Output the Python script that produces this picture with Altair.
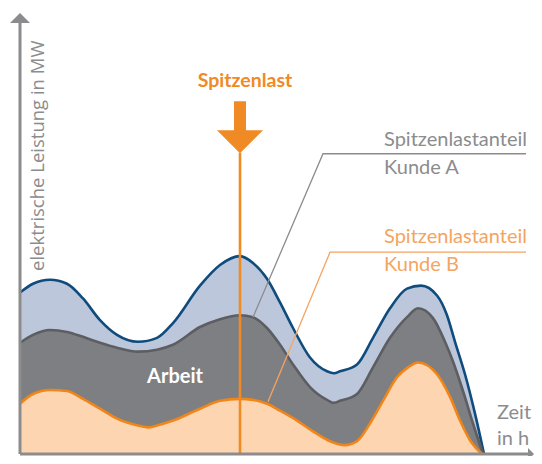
import altair as alt
import pandas as pd

# ---- values (x = time, y = power, chart units) ----
total_t = [0, 13, 30, 47, 63, 80, 97, 118, 137, 153, 180, 200, 220, 233, 247, 260, 273, 290, 307, 314, 320, 337, 353, 370, 387, 401, 417, 427, 435, 445, 455, 464]
total_p = [164, 173, 177, 173, 158, 136, 121, 114, 118, 133, 171, 192, 201, 194, 178, 154, 128, 98, 84, 82, 84, 91, 118, 148, 168, 171, 161, 141, 114, 81, 41, 0]

arbeit_t = [0, 13, 30, 47, 63, 80, 97, 118, 137, 153, 180, 200, 220, 233, 247, 260, 273, 290, 307, 314, 320, 337, 353, 370, 387, 398, 413, 425, 433, 443, 453, 463]
arbeit_p = [113, 121, 126, 124, 119, 113, 108, 104, 106, 111, 129, 137, 141, 139, 128, 111, 91, 68, 55, 52, 54, 61, 88, 118, 139, 148, 138, 114, 94, 64, 31, 0]

kundeb_t = [0, 13, 30, 47, 63, 80, 97, 118, 128, 137, 153, 180, 200, 220, 233, 247, 260, 277, 293, 310, 325, 337, 350, 363, 377, 388, 398, 417, 430, 440, 450, 462]
kundeb_p = [51, 61, 65, 64, 56, 46, 36, 29, 27, 29, 34, 46, 54, 56, 55, 51, 44, 34, 23, 13, 9, 13, 31, 54, 78, 88, 93, 81, 58, 34, 14, 0]

peak_t = 220          # time of the peak load
peak_top = 306

y_title = "elektrische Leistung in MW"
x_title = ["Zeit", "in h"]
peak_label = "Spitzenlast"
label_a = ["Spitzenlastanteil", "Kunde A"]
label_b = ["Spitzenlastanteil", "Kunde B"]
area_label = "Arbeit"

# ---- colours / fonts ----
BLUE_FILL, BLUE_LINE = "#bdc7dc", "#0f4c7d"
GRAY_FILL, GRAY_LINE = "#7e7f83", "#5d5e62"
OR_FILL, OR_LINE = "#fdd6b1", "#f08519"
PEAK = "#f08a24"
LBL_GRAY, LBL_OR = "#8b8c8e", "#f5a460"
AXIS = "#8c8c8e"
LBL_FONT = "Lato"

XMAX, YMAX = 514, 448
W, H = 514, 441
xs = alt.Scale(domain=[0, XMAX], nice=False, zero=False)
ys = alt.Scale(domain=[0, YMAX], nice=False, zero=False)
X = lambda f="t": alt.X(f"{f}:Q", scale=xs, axis=None)
Y = lambda f="p": alt.Y(f"{f}:Q", scale=ys, axis=None)


def df(t, p):
    return pd.DataFrame({"t": t, "p": p})


def area(d, fill):
    return alt.Chart(d).mark_area(interpolate="monotone", color=fill).encode(x=X(), y=Y())


def line(d, stroke, w=2.6):
    return alt.Chart(d).mark_line(interpolate="monotone", color=stroke, strokeWidth=w).encode(x=X(), y=Y())


d_total, d_arbeit, d_b = df(total_t, total_p), df(arbeit_t, arbeit_p), df(kundeb_t, kundeb_p)

layers = [
    area(d_total, BLUE_FILL), line(d_total, BLUE_LINE),
    area(d_arbeit, GRAY_FILL), line(d_arbeit, GRAY_LINE),
    area(d_b, OR_FILL), line(d_b, OR_LINE),
]

# peak line
layers.append(
    alt.Chart(pd.DataFrame({"t": [peak_t], "p0": [0], "p1": [peak_top]}))
    .mark_rule(color=PEAK, strokeWidth=2.6)
    .encode(x=X(), y=Y("p0"), y2="p1:Q")
)

# pointer lines
ptr_a = pd.DataFrame({"t": [233, 303, 506], "p": [139, 305, 305]})
ptr_b = pd.DataFrame({"t": [248, 310, 506], "p": [53, 205, 205]})
layers.append(alt.Chart(ptr_a).mark_line(color=LBL_GRAY, strokeWidth=1.3).encode(x=X(), y=Y()))
layers.append(alt.Chart(ptr_b).mark_line(color=LBL_OR, strokeWidth=1.3).encode(x=X(), y=Y()))

# big arrow
arrow_path = "M-0.23,-1 L0.23,-1 L0.23,0.115 L0.885,0.115 L0,1 L-0.885,0.115 L-0.23,0.115 Z"
layers.append(
    alt.Chart(pd.DataFrame({"t": [peak_t], "p": [332]}))
    .mark_point(shape=arrow_path, size=2704, filled=True, color=PEAK, opacity=1, strokeWidth=0)
    .encode(x=X(), y=Y())
)


def text(d, **kw):
    return alt.Chart(d).mark_text(**kw).encode(x=X(), y=Y(), text="s:N")


layers.append(text(pd.DataFrame({"t": [225], "p": [373], "s": [peak_label]}),
                   font=LBL_FONT, fontSize=19.5, fontWeight="bold", color=PEAK, align="center", baseline="alphabetic"))
layers.append(text(pd.DataFrame({"t": [364, 364], "p": [313, 284], "s": label_a}),
                   font=LBL_FONT, fontSize=20, color=LBL_GRAY, align="left", baseline="alphabetic"))
layers.append(text(pd.DataFrame({"t": [364, 364], "p": [214, 186], "s": label_b}),
                   font=LBL_FONT, fontSize=20, color=LBL_OR, align="left", baseline="alphabetic"))
layers.append(text(pd.DataFrame({"t": [155], "p": [72], "s": [area_label]}),
                   font=LBL_FONT, fontSize=20, fontWeight="bold", color="white", align="center", baseline="alphabetic"))
layers.append(text(pd.DataFrame({"t": [477, 477], "p": [36, 9], "s": x_title}),
                   font=LBL_FONT, fontSize=20, color=LBL_GRAY, align="left", baseline="alphabetic"))
layers.append(text(pd.DataFrame({"t": [24], "p": [303], "s": [y_title]}),
                   font="Open Sans", fontSize=18.5, color=LBL_GRAY, angle=270, align="center", baseline="alphabetic"))

# axes with arrow heads
layers.append(alt.Chart(pd.DataFrame({"t": [0], "p0": [0], "p1": [440]}))
              .mark_rule(color=AXIS, strokeWidth=3).encode(x=X(), y=Y("p0"), y2="p1:Q"))
layers.append(alt.Chart(pd.DataFrame({"t0": [0], "t1": [508], "p": [0]}))
              .mark_rule(color=AXIS, strokeWidth=3).encode(x=X("t0"), x2="t1:Q", y=Y()))
layers.append(alt.Chart(pd.DataFrame({"t": [0], "p": [443]}))
              .mark_point(shape="M-1,0.5 L0,-0.5 L1,0.5 Z", size=400, filled=True, color=AXIS, opacity=1, strokeWidth=0)
              .encode(x=X(), y=Y()))
layers.append(alt.Chart(pd.DataFrame({"t": [511], "p": [0]}))
              .mark_point(shape="M-0.5,-1 L0.5,0 L-0.5,1 Z", size=144, filled=True, color=AXIS, opacity=1, strokeWidth=0)
              .encode(x=X(), y=Y()))

chart = (
    alt.layer(*layers)
    .properties(width=W, height=H, padding={"left": 12, "top": 5, "right": 0, "bottom": 2},
                autosize=alt.AutoSizeParams(type="none"), background="white")
    .configure_view(stroke=None)
)

chart.save("out.html", embed_options={"renderer": "svg", "actions": False})
